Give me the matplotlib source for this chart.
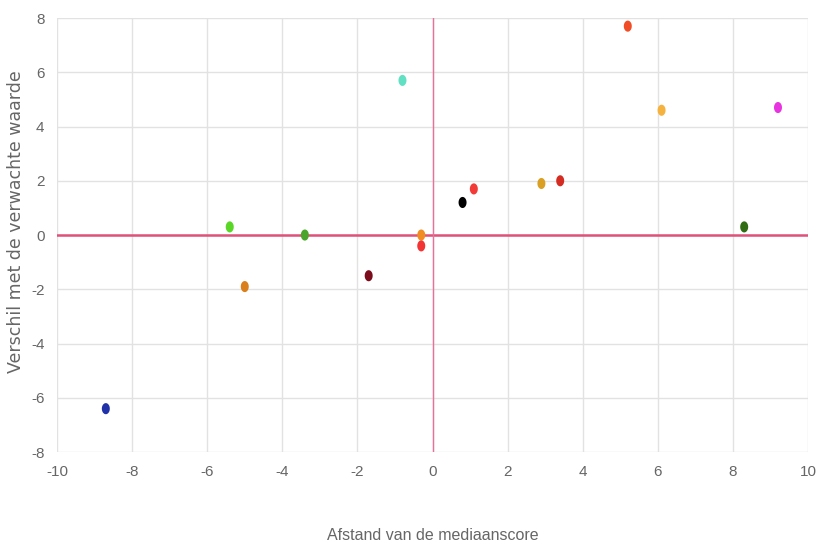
import numpy as np
import matplotlib
matplotlib.use("Agg")
import matplotlib.pyplot as plt
from matplotlib.path import Path

# afstand van de mediaanscore (x) en verschil met de verwachte waarde (y)
afstand = [-8.7, -5.4, -5.0, -3.4, -1.7, -0.8, -0.3, -0.3, 0.8, 1.1, 2.9, 3.4, 5.2, 6.1, 9.2, 8.3]
verschil = [-6.4, 0.3, -1.9, 0.0, -1.5, 5.7, 0.0, -0.4, 1.2, 1.7, 1.9, 2.0, 7.7, 4.6, 4.7, 0.3]
kleuren = ["#2132a8", "#5ad626", "#d9801c", "#4aa62a", "#7a0c1c", "#62e0c4",
           "#f08c22", "#f23434", "#000000", "#f23a36", "#d9a024", "#d42c22",
           "#f04c26", "#f5b23e", "#e834e0", "#2f6c12"]
ticks = np.arange(-10, 11, 2)
yticks = np.arange(-8, 9, 2)

plt.rcParams["axes.unicode_minus"] = False

# slightly tall ellipse marker, like in the original
t = np.linspace(0, 2 * np.pi, 40)
ellipse = Path(np.column_stack([0.72 * np.cos(t), np.sin(t)]), closed=True)

fig = plt.figure(figsize=(8.19, 5.54), dpi=100)
ax = fig.add_axes([0.0696, 0.184, 0.917, 0.7835])

ax.set_xlim(-10, 10)
ax.set_ylim(-8, 8)
ax.set_xticks(ticks)
ax.set_yticks(yticks)
ax.grid(True, color="#e2e2e2", linewidth=1)
ax.set_axisbelow(True)
for s in ax.spines.values():
    s.set_visible(False)
ax.tick_params(length=0, labelcolor="#666666", labelsize=11, pad=9)
for lab in ax.get_xticklabels() + ax.get_yticklabels():
    lab.set_family("Liberation Sans")

ax.axhline(0, color="#e0507a", linewidth=1.8, zorder=1)
ax.axvline(0, color="#e8709a", linewidth=1.0, zorder=1)

ax.scatter(afstand, verschil, c=kleuren, marker=ellipse, s=64, linewidths=0, zorder=3)

ax.set_xlabel("Afstand van de mediaanscore", family="Liberation Sans", fontsize=11.5,
              color="#666666", va="top")
ax.xaxis.set_label_coords(0.5, -0.175)
ax.set_ylabel("Verschil met de verwachte waarde", family="DejaVu Sans",
              fontsize=12.5, color="#666666")
ax.yaxis.set_label_coords(-0.043, 0.532)

fig.savefig("out.png", dpi=100)
